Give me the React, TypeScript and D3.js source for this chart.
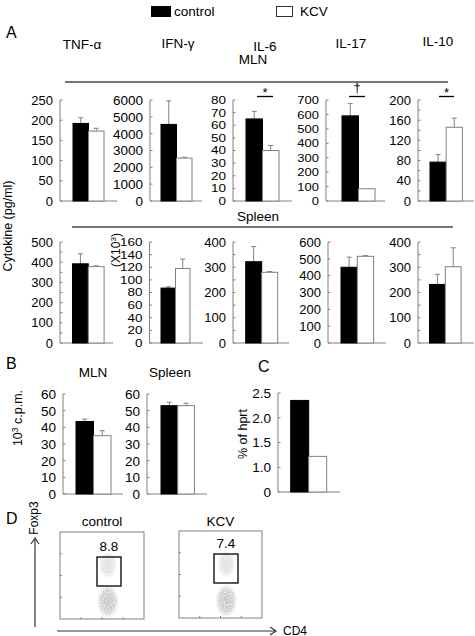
import React from "react";
import * as d3 from "d3";

// ---------- DATA ----------
const groups = ["control", "KCV"];
const cytokines = ["TNF-α", "IFN-γ", "IL-6", "IL-17", "IL-10"];

// Panel A, MLN (pg/ml)
const mlnControl = [192, 4550, 65, 590, 77];
const mlnControlSd = [14, 1400, 6, 85, 15];
const mlnKcv = [173, 2550, 40, 85, 146];
const mlnKcvSd = [7, 50, 4, 0, 18];
const mlnMax = [250, 6000, 80, 700, 200];
const mlnLabelStep = [50, 1000, 10, 100, 40];
const mlnMinorStep = [50, 1000, 10, 100, 20];

// Panel A, Spleen (pg/ml; IFN-γ in x10^3)
const spleenControl = [392, 87, 322, 450, 232];
const spleenControlSd = [50, 2, 60, 60, 40];
const spleenKcv = [378, 118, 280, 515, 302];
const spleenKcvSd = [4, 15, 3, 4, 75];
const spleenMax = [500, 160, 400, 600, 400];
const spleenLabelStep = [100, 20, 100, 100, 100];
const spleenMinorStep = [50, 20, 50, 100, 50];

// Panel B (10^3 c.p.m.)
const prolifTissues = ["MLN", "Spleen"];
const prolifControl = [43.5, 53];
const prolifControlSd = [1.5, 2];
const prolifKcv = [35, 53];
const prolifKcvSd = [3, 1.5];
const prolifTicks = [0, 10, 20, 30, 40, 50, 60];

// Panel C (% of hprt)
const hprtValues = [2.35, 1.22];
const hprtTicks = [0.5, 1.0, 1.5, 2.0, 2.5];
const hprtTickLabels = ["0", "1.0", "1.5", "2.0", "2.5"];

// Panel D (flow, % in gate)
const flowGroups = ["control", "KCV"];
const flowPercent = ["8.8", "7.4"];

// ---------- STYLE ----------
const FONT = "'Liberation Sans', Arial, sans-serif";
const AXIS = "#808080";

type ChartProps = {
  axisX: number;
  endX: number;
  yTop: number;
  yBottom: number;
  domain: [number, number];
  tickValues: number[];
  tickLabels?: string[];
  minorValues?: number[];
  barX: number;
  barW: number;
  values: number[];
  sds: number[];
  fontSize?: number;
  squish?: number;
};

function BarChart(p: ChartProps) {
  const y = d3.scaleLinear().domain(p.domain).range([p.yBottom, p.yTop]);
  const fs = p.fontSize ?? 12;
  const sq = p.squish ?? 1;
  const x = d3
    .scaleBand<string>()
    .domain(groups)
    .range([p.barX, p.barX + 2 * p.barW])
    .padding(0);
  const minor = p.minorValues ?? p.tickValues;
  return (
    <g>
      <line x1={p.axisX} x2={p.axisX} y1={p.yTop} y2={p.yBottom} stroke={AXIS} strokeWidth={1} />
      <line x1={p.axisX} x2={p.endX} y1={p.yBottom} y2={p.yBottom} stroke={AXIS} strokeWidth={1} />
      {minor.map((v, i) => (
        <line key={"m" + i} x1={p.axisX} x2={p.axisX + 2.5} y1={y(v)} y2={y(v)} stroke={AXIS} strokeWidth={1} />
      ))}
      {p.tickValues.map((v, i) => (
        <text
          key={"t" + i}
          transform={`translate(${p.axisX - 7},${y(v)}) scale(1,${sq})`}
          textAnchor="end"
          dy="0.36em"
          fontSize={fs}
          fontFamily={FONT}
          fill="#000"
        >
          {p.tickLabels ? p.tickLabels[i] : String(v)}
        </text>
      ))}
      {groups.map((g, i) => {
        const v = p.values[i];
        const sd = p.sds[i];
        const bx = x(g) as number;
        const bw = x.bandwidth();
        const top = y(v);
        const cx = bx + bw / 2;
        return (
          <g key={g}>
            {sd > 0 && (
              <g>
                <line x1={cx} x2={cx} y1={top} y2={y(v + sd)} stroke={AXIS} strokeWidth={1} />
                <line x1={cx - 2.5} x2={cx + 2.5} y1={y(v + sd)} y2={y(v + sd)} stroke={AXIS} strokeWidth={1} />
              </g>
            )}
            <rect
              x={bx}
              y={top}
              width={bw}
              height={p.yBottom - top}
              fill={i === 0 ? "#000" : "#fff"}
              stroke={i === 0 ? "#000" : AXIS}
              strokeWidth={1}
            />
          </g>
        );
      })}
    </g>
  );
}

function range(max: number, step: number, min = 0) {
  const out: number[] = [];
  for (let v = min; v <= max + 1e-9; v += step) out.push(Math.round(v * 1000) / 1000);
  return out;
}

// layout (positions only)
const topAxisX = [60, 150, 233, 326, 418];
const topEndX = [117, 202, 292, 385, 474];
const topBarX = [73, 161, 246, 342, 430];
const topBarW = [15.5, 15.5, 16.5, 16.5, 16.2];
const topFont = [13, 13.5, 13.5, 13, 13];
const topSquish = [1, 1, 0.8, 0.9, 1];
const botAxisX = [60, 149.5, 233, 328, 418];
const botEndX = [113, 203, 289, 386, 474];
const botBarX = [72.5, 161, 245.7, 341, 429.5];
const botBarW = [15.8, 14.5, 16, 16.3, 15.8];
const botFont = [13, 13.5, 13, 13, 13];
const botSquish = [1, 0.8, 1, 1, 1];
const titleX = [82, 178, 265, 351, 438];
const titleY = [49, 48, 51, 48, 46];

const sig = [
  { idx: 2, sym: "*", x1: 257, x2: 273 },
  { idx: 3, sym: "†", x1: 349, x2: 365 },
  { idx: 4, sym: "*", x1: 439, x2: 454 },
];

function Blob({ cx, cy, rx, ry, id, dark }: { cx: number; cy: number; rx: number; ry: number; id: string; dark: string }) {
  return (
    <g>
      <defs>
        <radialGradient id={id}>
          <stop offset="0%" stopColor={dark} stopOpacity={0.95} />
          <stop offset="65%" stopColor={dark} stopOpacity={0.7} />
          <stop offset="100%" stopColor={dark} stopOpacity={0} />
        </radialGradient>
      </defs>
      <ellipse cx={cx} cy={cy} rx={rx} ry={ry} fill={`url(#${id})`} filter="url(#speckle)" />
    </g>
  );
}

function FlowPlot({ x0, x1, y0, y1, gate, label, title, idx }: any) {
  const xs = d3.scaleLinear().domain([0, 1]).range([x0, x1]);
  const ys = d3.scaleLinear().domain([0, 1]).range([y1, y0]);
  const ticks = [0.25, 0.5, 0.75];
  return (
    <g>
      <text x={(x0 + x1) / 2} y={526} textAnchor="middle" fontSize={13.5} fontFamily={FONT}>
        {title}
      </text>
      <rect x={x0} y={y0} width={x1 - x0} height={y1 - y0} fill="#fff" stroke={AXIS} strokeWidth={1} />
      {ticks.map((t) => (
        <line key={"l" + t} x1={x0} x2={x0 + 2} y1={ys(t)} y2={ys(t)} stroke={AXIS} />
      ))}
      {ticks.map((t) => (
        <line key={"b" + t} x1={xs(t)} x2={xs(t)} y1={y1} y2={y1 - 2} stroke={AXIS} />
      ))}
      <Blob cx={xs(0.57)} cy={ys(0.2)} rx={11} ry={17} id={"bl" + idx} dark="#b4b4b4" />
      <Blob cx={xs(0.57)} cy={ys(0.62)} rx={9} ry={14} id={"gl" + idx} dark="#d4d4d4" />
      <rect x={gate[0]} y={gate[1]} width={gate[2] - gate[0]} height={gate[3] - gate[1]} fill="none" stroke="#000" strokeWidth={1.3} />
      <text x={(gate[0] + gate[2]) / 2} y={gate[1] - 6} textAnchor="middle" fontSize={13.5} fontFamily={FONT}>
        {label}
      </text>
    </g>
  );
}

export default function App() {
  return (
    <svg
      width={475}
      height={636}
      style={{ position: "absolute", left: 0, top: 0, background: "#fff" }}
      fontFamily={FONT}
    >
      <defs>
        <filter id="speckle" x="0" y="0" width="100%" height="100%">
          <feTurbulence type="fractalNoise" baseFrequency="0.9" numOctaves={1} seed={3} result="n" />
          <feColorMatrix in="n" type="matrix" values="0 0 0 0 0  0 0 0 0 0  0 0 0 0 0  0 0 0 -2.0 1.7" result="m" />
          <feComposite in="SourceGraphic" in2="m" operator="in" />
        </filter>
      </defs>
      <rect width={475} height={636} fill="#fff" />

      {/* Legend */}
      <rect x={151} y={6} width={20} height={11} fill="#000" />
      <text x={174} y={16} fontSize={13.5}>{groups[0]}</text>
      <rect x={276.5} y={6.5} width={16} height={10} fill="#fff" stroke="#333" strokeWidth={1} />
      <text x={300} y={16} fontSize={13.5}>{groups[1]}</text>

      {/* Panel labels */}
      <text x={6} y={38} fontSize={16}>A</text>
      <text x={6} y={369} fontSize={16}>B</text>
      <text x={258} y={372} fontSize={16}>C</text>
      <text x={6} y={524} fontSize={16}>D</text>

      {/* Cytokine titles */}
      {cytokines.map((c, i) => (
        <text key={c} x={titleX[i]} y={titleY[i]} textAnchor="middle" fontSize={13.5}>
          {c}
        </text>
      ))}
      <text x={253} y={64} textAnchor="middle" fontSize={13.5}>MLN</text>
      <line x1={65} x2={448} y1={82} y2={82} stroke="#777" strokeWidth={2} />

      {/* MLN row */}
      {cytokines.map((c, i) => (
        <BarChart
          key={"mln" + c}
          axisX={topAxisX[i]}
          endX={topEndX[i]}
          yTop={100}
          yBottom={201}
          domain={[0, mlnMax[i]]}
          tickValues={range(mlnMax[i], mlnLabelStep[i])}
          minorValues={range(mlnMax[i], mlnMinorStep[i])}
          barX={topBarX[i]}
          barW={topBarW[i]}
          values={[mlnControl[i], mlnKcv[i]]}
          sds={[mlnControlSd[i], mlnKcvSd[i]]}
          fontSize={topFont[i]}
          squish={topSquish[i]}
        />
      ))}
      {sig.map((s) => (
        <g key={"sig" + s.idx}>
          <line x1={s.x1} x2={s.x2} y1={96.5} y2={96.5} stroke="#000" strokeWidth={1.3} />
          <text
            x={(s.x1 + s.x2) / 2}
            y={s.sym === "*" ? 97 : 92}
            textAnchor="middle"
            fontSize={13}
            fill="#000"
            style={{ WebkitFontSmoothing: "antialiased" } as any}
          >
            {s.sym}
          </text>
        </g>
      ))}

      {/* Spleen row */}
      <text x={237} y={221} fontSize={13.5}>Spleen</text>
      <line x1={72} x2={453} y1={227} y2={227} stroke="#777" strokeWidth={2} />
      {cytokines.map((c, i) => (
        <BarChart
          key={"spl" + c}
          axisX={botAxisX[i]}
          endX={botEndX[i]}
          yTop={242}
          yBottom={343}
          domain={[0, spleenMax[i]]}
          tickValues={range(spleenMax[i], spleenLabelStep[i])}
          minorValues={range(spleenMax[i], spleenMinorStep[i])}
          barX={botBarX[i]}
          barW={botBarW[i]}
          values={[spleenControl[i], spleenKcv[i]]}
          sds={[spleenControlSd[i], spleenKcvSd[i]]}
          fontSize={botFont[i]}
          squish={botSquish[i]}
        />
      ))}
      <text transform="translate(120,250) rotate(-90)" textAnchor="middle" fontSize={12}>
        (X10<tspan dy={-4} fontSize={8}>3</tspan>
        <tspan dy={4}>)</tspan>
      </text>
      <text transform="translate(12,226) rotate(-90)" textAnchor="middle" fontSize={12.5}>
        Cytokine (pg/ml)
      </text>

      {/* Panel B */}
      {prolifTissues.map((t, i) => (
        <g key={t}>
          <text x={i === 0 ? 93 : 170} y={377} textAnchor="middle" fontSize={13.5}>
            {t}
          </text>
          <BarChart
            axisX={i === 0 ? 63 : 147}
            endX={i === 0 ? 123 : 207}
            yTop={394}
            yBottom={494}
            domain={[0, 60]}
            tickValues={prolifTicks}
            barX={i === 0 ? 76 : 161}
            barW={i === 0 ? 17.5 : 16.7}
            values={[prolifControl[i], prolifKcv[i]]}
            sds={[prolifControlSd[i], prolifKcvSd[i]]}
            fontSize={13.5}
          />
        </g>
      ))}
      <text transform="translate(22,418) rotate(-90)" textAnchor="middle" fontSize={12.5}>
        10<tspan dy={-4} fontSize={8.5}>3</tspan>
        <tspan dy={4}> c.p.m.</tspan>
      </text>

      {/* Panel C */}
      <BarChart
        axisX={278}
        endX={340}
        yTop={393}
        yBottom={492}
        domain={[0.5, 2.5]}
        tickValues={hprtTicks}
        tickLabels={hprtTickLabels}
        barX={290.7}
        barW={18}
        values={hprtValues}
        sds={[0, 0]}
        fontSize={13.5}
      />
      <text transform="translate(247,434) rotate(-90)" textAnchor="middle" fontSize={12.5}>
        % of hprt
      </text>

      {/* Panel D */}
      <text transform="translate(38,518) rotate(-90)" textAnchor="middle" fontSize={12}>
        Foxp3
      </text>
      <line x1={35} x2={35} y1={538} y2={627} stroke="#333" strokeWidth={1.2} />
      <polyline points="31,544 35,538 39,544" fill="none" stroke="#333" strokeWidth={1.2} />
      <line x1={57} x2={276} y1={631} y2={631} stroke="#333" strokeWidth={1.2} />
      <polyline points="270,627 276,631 270,635" fill="none" stroke="#333" strokeWidth={1.2} />
      <text x={283} y={634.5} fontSize={12}>CD4</text>
      <FlowPlot x0={60} x1={144} y0={532} y1={619} gate={[97, 557, 121, 586]} label={flowPercent[0]} title={flowGroups[0]} idx={0} />
      <FlowPlot x0={179} x1={262} y0={531} y1={618} gate={[214, 554, 238, 583]} label={flowPercent[1]} title={flowGroups[1]} idx={1} />
    </svg>
  );
}
